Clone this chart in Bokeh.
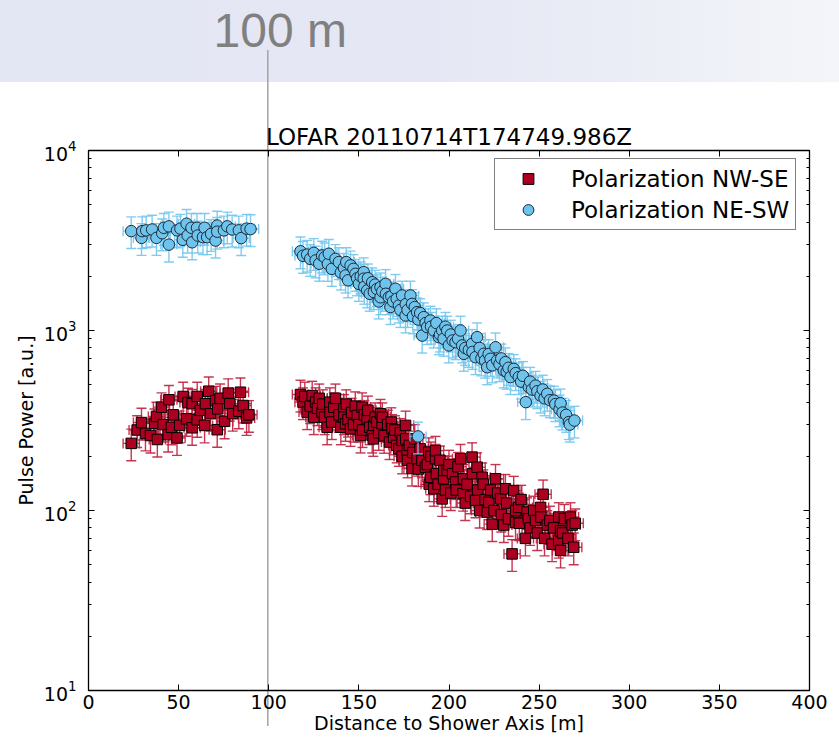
import numpy as np
from bokeh.plotting import figure
from bokeh.models import (ColumnDataSource, Whisker, TeeHead, LinearAxis, LogAxis, Legend,
                          LegendItem, FixedTicker, LogTicker, Range1d, Title,
                          CustomJSTickFormatter)
from bokeh.embed import file_html
from bokeh.resources import INLINE

# ---------------- data ----------------
TITLE = "LOFAR 20110714T174749.986Z"
X_TICKS = [0, 50, 100, 150, 200, 250, 300, 350, 400]
REL_ERR = 0.2       # relative power uncertainty
X_ERR = 4.5         # distance uncertainty [m]
MARK_DISTANCE = 100  # m

# Polarization NW-SE
nwse_x = [23.7, 27.0, 29.4, 31.6, 34.4, 36.6, 37.7, 38.2, 40.5, 41.4, 44.2, 44.6, 46.0, 47.0,
          49.1, 50.6, 52.5, 54.4, 55.2, 57.5, 57.5, 60.3, 60.3, 62.0, 64.4, 64.9, 66.7, 67.7,
          70.5, 71.4, 71.7, 73.0, 75.5, 77.5, 78.4, 80.0, 83.4, 84.3, 85.8, 87.7, 89.0,
          117.6, 119.0, 120.0, 121.3, 123.0, 124.1, 125.0, 126.0, 127.0, 128.0, 129.6, 130.0,
          131.0, 132.4, 133.9, 134.0, 135.0, 136.1, 137.0, 139.0, 140.0, 141.7, 141.7, 142.6,
          143.0, 144.0, 145.4, 146.0, 147.0, 148.0, 149.1, 150.0, 150.9, 151.8, 152.0, 153.0,
          154.6, 155.0, 156.0, 157.4, 158.0, 158.3, 159.0, 160.0, 161.0, 162.0, 162.9, 163.0,
          164.0, 166.0, 167.0, 168.0, 168.4, 169.3, 170.0, 171.0, 172.2, 173.0, 174.0, 174.0,
          175.9, 176.0, 176.8, 177.0, 178.0, 179.5, 180.0, 181.0, 182.3, 183.0, 184.0, 185.0,
          186.9, 188.0, 188.8, 189.0, 189.7, 190.0, 191.6, 192.5, 192.5, 193.0, 194.0, 195.0,
          196.2, 197.0, 197.1, 198.0, 199.0, 200.0, 201.0, 202.0, 203.6, 204.0, 205.0, 206.4,
          207.8, 208.0, 209.0, 210.0, 212.0, 212.8, 213.0, 214.7, 215.6, 216.0, 217.0, 218.4,
          219.0, 220.0, 221.2, 222.1, 223.0, 224.0, 225.0, 225.8, 227.0, 228.6, 229.0, 230.4,
          231.3, 232.0, 233.0, 235.0, 235.9, 236.9, 237.0, 238.7, 239.0, 240.0, 242.4, 243.3,
          244.0, 245.0, 247.0, 248.0, 249.0, 250.8, 251.0, 252.2, 253.0, 254.5, 256.0, 257.2,
          258.0, 260.9, 260.9, 261.9, 261.9, 263.0, 264.0, 266.0, 267.4, 268.3, 269.2, 270.0]
nwse_y = [236, 280, 308, 268, 261, 305, 333, 248, 375, 300, 264, 412, 290, 340,
          253, 297, 430, 323, 398, 392, 288, 430, 319, 360, 297, 392, 460, 345,
          408, 281, 367, 420, 313, 449, 392, 345, 356, 454, 383, 327, 340,
          441, 400, 430, 352, 380, 435, 330, 400, 370, 420, 352, 390,
          330, 290, 400, 350, 310, 375, 420, 340, 290, 367, 330, 303,
          390, 320, 284, 350, 300, 380, 337, 300, 261, 375, 280, 340,
          323, 360, 290, 261, 250, 297, 330, 310, 270, 345, 303, 330,
          260, 300, 240, 310, 284, 255, 280, 230, 220, 270, 245, 200,
          297, 250, 215, 190, 230, 171, 210, 250, 194, 170, 220, 190,
          174, 180, 211, 140, 153, 200, 132, 194, 215, 160, 140, 190,
          116, 150, 167, 130, 167, 180, 125, 160, 144, 130, 175, 194,
          124, 150, 110, 140, 120, 198, 160, 114, 174, 130, 100, 153,
          140, 115, 98, 111, 130, 84, 100, 150, 125, 116, 95, 83,
          132, 110, 90, 57.4, 129, 86, 100, 104, 85, 115, 70, 98,
          90, 80, 100, 88, 75, 104, 92, 123, 70, 83, 88, 65,
          80, 92, 68, 60, 77, 75, 90, 70, 92, 83, 62.5, 85]

# Polarization NE-SW
nesw_x = [23.7, 29.4, 29.8, 32.0, 35.3, 37.7, 40.9, 41.8, 44.6, 44.6, 49.1, 51.0, 52.3,
          54.4, 55.0, 57.1, 57.5, 60.2, 60.6, 63.5, 64.4, 65.8, 68.0, 70.5, 71.4, 71.4,
          75.1, 77.0, 79.7, 83.4, 84.7, 87.7, 89.9,
          117.6, 119.0, 121.3, 123.0, 125.0, 126.0, 128.0, 129.6, 131.0, 132.8, 133.3,
          135.0, 137.0, 138.9, 140.0, 141.7, 142.6, 143.0, 144.0, 145.4, 147.0, 148.1,
          149.0, 150.0, 151.0, 152.7, 152.7, 153.0, 154.6, 155.0, 156.0, 157.4, 158.3,
          159.0, 160.0, 161.0, 162.0, 162.0, 163.0, 164.8, 165.0, 166.6, 167.5, 168.0,
          169.0, 170.3, 171.0, 172.2, 173.0, 174.0, 175.9, 176.0, 177.0, 178.6, 179.5,
          180.0, 181.0, 182.3, 182.8, 183.0, 184.0, 185.1, 186.0, 187.0, 187.9, 189.7,
          190.0, 191.6, 193.0, 194.4, 195.0, 196.2, 197.0, 198.0, 199.0, 199.9, 201.0,
          202.0, 203.6, 205.0, 206.4, 207.3, 208.2, 209.0, 211.0, 212.8, 213.0, 214.7,
          215.6, 217.0, 218.0, 219.3, 220.0, 221.2, 222.0, 223.0, 224.0, 225.8, 226.7,
          228.0, 229.0, 230.4, 231.3, 232.0, 233.0, 234.1, 235.9, 237.0, 238.7, 240.0,
          241.0, 242.6, 244.3, 245.0, 246.0, 248.0, 249.0, 250.8, 252.0, 253.0, 254.5,
          256.0, 258.2, 259.0, 261.3, 261.9, 263.0, 265.0, 266.5, 267.0, 269.6]
nesw_y = [3565, 3270, 3565, 3600, 3640, 3270, 3470, 3720, 3790, 3000, 3600, 3680, 3190,
          3920, 3370, 3720, 3090, 3720, 3370, 3300, 3720, 3300, 3440, 3160, 3830, 3540,
          3600, 3790, 3640, 3600, 3260, 3680, 3660,
          2755, 2600, 2640, 2500, 2700, 2450, 2350, 2610, 2550, 2345, 2670,
          2200, 2500, 2400, 2100, 2230, 2020, 2400, 1900, 2300, 2200, 2065,
          1950, 1815, 2000, 2110, 1940, 1750, 1670, 1950, 1600, 1855, 1635,
          1800, 1700, 1450, 1740, 1530, 1650, 1815, 1600, 1530, 1350, 1550,
          1450, 1705, 1500, 1377, 1300, 1565, 1212, 1400, 1300, 1565, 1405,
          1200, 1350, 1264, 258, 1150, 1250, 937, 1186, 1100, 1044, 1136,
          1050, 1000, 1100, 918, 950, 1000, 900, 1050, 1000, 826, 950,
          880, 861, 900, 1000, 826, 742, 800, 780, 843, 760, 711,
          918, 800, 700, 742, 680, 625, 740, 696, 640, 807, 681,
          650, 700, 600, 667, 590, 620, 551, 612, 580, 551, 520,
          560, 400, 484, 520, 470, 494, 460, 435, 470, 420, 445,
          410, 408, 390, 365, 394, 350, 340, 310, 300, 316]

# ---------------- layout ----------------
W, H = 839, 737
LEFT, RIGHT, TOP, BOTTOM = 88, 809, 150, 690
X_LO, X_HI = 0, 400
Y_LO, Y_HI = 10, 1e4

FONT = "DejaVu Sans"
RED, RED_BAR = "#ad0020", "#c0203f"
BLUE, BLUE_BAR = "#6fc4ee", "#72c6ef"

# distance marker line position on the page, from the x scale
mark_px = LEFT + (MARK_DISTANCE - X_LO) / (X_HI - X_LO) * (RIGHT - LEFT)
LINE_W = 1.6

p = figure(width=W, height=H, x_range=Range1d(X_LO, X_HI), y_range=Range1d(Y_LO, Y_HI),
           y_axis_type="log", output_backend="svg", toolbar_location=None,
           min_border_left=LEFT, min_border_right=W - RIGHT, min_border_top=TOP,
           min_border_bottom=H - BOTTOM, title=None)
p.grid.visible = False
p.outline_line_color = "black"
p.outline_line_width = 1.3
# transparent canvas: the slide header band and the marker line sit behind it
p.border_fill_alpha = 0
p.background_fill_alpha = 0
p.styles = {
    "background": (
        f"linear-gradient(#a8a8a8, #a8a8a8) {mark_px - LINE_W / 2:.2f}px 50px / {LINE_W}px 676px no-repeat, "
        "linear-gradient(to right, #e3e6f3 0%, #e5e8f4 50%, #e9ebf5 68%, #eff1f8 85%, #f4f5fa 100%) "
        "0 0 / 100% 82px no-repeat, white"
    )
}

xt = FixedTicker(ticks=X_TICKS)
p.xaxis.ticker = xt
p.yaxis.ticker = LogTicker(num_minor_ticks=10)

blank = CustomJSTickFormatter(code='return ""')


def style_axis(ax):
    ax.axis_line_color = None
    ax.major_tick_in = 6
    ax.major_tick_out = 0
    ax.minor_tick_in = 3
    ax.minor_tick_out = 0
    ax.major_tick_line_color = "black"
    ax.minor_tick_line_color = "black"
    ax.major_label_text_font = FONT
    ax.major_label_text_font_size = "19px"
    ax.major_label_text_color = "black"
    ax.axis_label_text_font = FONT
    ax.axis_label_text_font_size = "19px"
    ax.axis_label_text_font_style = "normal"
    ax.axis_label_text_color = "black"


bottom_ax = p.xaxis[0]
style_axis(bottom_ax)
bottom_ax.minor_tick_line_color = None
bottom_ax.axis_label = "Distance to Shower Axis [m]"
bottom_ax.major_label_standoff = 4
bottom_ax.axis_label_standoff = 0

left_ax = p.yaxis[0]
style_axis(left_ax)
left_ax.axis_label = "Pulse Power [a.u.]"
left_ax.major_label_standoff = 12
left_ax.axis_label_standoff = 4

# tick marks only on the top and right edges
top_ax = LinearAxis(ticker=FixedTicker(ticks=X_TICKS), formatter=blank)
style_axis(top_ax)
top_ax.minor_tick_line_color = None
top_ax.major_label_standoff = 0
p.add_layout(top_ax, "above")

right_ax = LogAxis(ticker=LogTicker(num_minor_ticks=10), formatter=blank)
style_axis(right_ax)
right_ax.major_label_standoff = 0
p.add_layout(right_ax, "right")

# plot title
p.add_layout(Title(text=TITLE, align="center", text_font=FONT, text_font_size="23px",
                   text_font_style="normal", text_color="black", standoff=2), "above")

# empty band between the plot title and the slide header (invisible ticks)
spacer = LinearAxis(ticker=FixedTicker(ticks=X_TICKS), formatter=blank, major_tick_out=64,
                    major_tick_in=0, major_tick_line_color=None, minor_tick_line_color=None,
                    axis_line_color=None, major_label_standoff=0)
p.add_layout(spacer, "above")

# slide caption for the marked distance
p.add_layout(Title(text=f"{MARK_DISTANCE} m", align="left", offset=125,
                   text_font="Liberation Sans", text_font_size="48px", text_font_style="normal",
                   text_color="#808080", standoff=0), "above")

# ---------------- data marks ----------------
def sources(xs, ys):
    x = np.asarray(xs, float)
    y = np.asarray(ys, float)
    return ColumnDataSource(dict(x=x, y=y, ylo=y * (1 - REL_ERR), yhi=y * (1 + REL_ERR),
                                 xlo=x - X_ERR, xhi=x + X_ERR))


def error_bars(src, color):
    out = []
    for dim, base, lo, hi in (("height", "x", "ylo", "yhi"), ("width", "y", "xlo", "xhi")):
        w = Whisker(source=src, base=base, lower=lo, upper=hi, dimension=dim,
                    line_color=color, line_width=1.4, line_alpha=0.9, level="glyph",
                    upper_head=TeeHead(size=10, line_color=color, line_width=1.4, line_alpha=0.9),
                    lower_head=TeeHead(size=10, line_color=color, line_width=1.4, line_alpha=0.9))
        out.append(w)
    return out


src_r = sources(nwse_x, nwse_y)
src_b = sources(nesw_x, nesw_y)

p.renderers.extend(error_bars(src_r, RED_BAR))
r_red = p.scatter("x", "y", source=src_r, marker="square", size=10.5, fill_color=RED,
                  line_color="black", line_width=1.0)
p.renderers.extend(error_bars(src_b, BLUE_BAR))
r_blue = p.scatter("x", "y", source=src_b, marker="circle", size=11.5, fill_color=BLUE,
                   line_color="#1b2a38", line_width=1.0)

legend = Legend(items=[LegendItem(label="Polarization NW-SE", renderers=[r_red]),
                       LegendItem(label="Polarization NE-SW", renderers=[r_blue])],
                location=(406, 460), padding=6, spacing=4, margin=0,
                glyph_width=54, glyph_height=27, label_height=27, label_standoff=16,
                label_text_font=FONT, label_text_font_size="23px", label_text_color="black",
                border_line_color="black", border_line_width=1.3, background_fill_color="white",
                background_fill_alpha=1.0)
p.add_layout(legend)

open("out.html", "w").write(file_html(p, INLINE))
